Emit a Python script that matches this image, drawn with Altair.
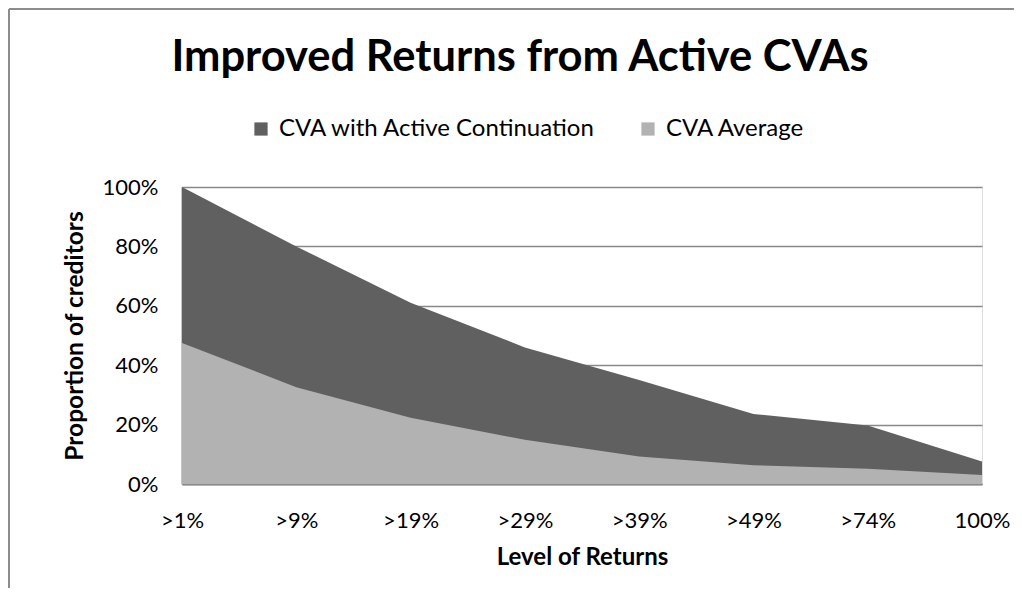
import altair as alt
import pandas as pd

title_text = "Improved Returns from Active CVAs"
categories = [">1%", ">9%", ">19%", ">29%", ">39%", ">49%", ">74%", "100%"]
series_names = ["CVA with Active Continuation", "CVA Average"]
active_values = [1.00, 0.80, 0.61, 0.46, 0.35, 0.236, 0.197, 0.076]
average_values = [0.475, 0.326, 0.223, 0.149, 0.093, 0.063, 0.051, 0.030]
y_ticks = [0, 0.2, 0.4, 0.6, 0.8, 1.0]

rows = []
for c, a, v in zip(categories, active_values, average_values):
    rows.append({"level": c, "series": series_names[0], "value": a})
    rows.append({"level": c, "series": series_names[1], "value": v})
df = pd.DataFrame(rows)

FONT = "Lato"
GRID = "#898989"

color = alt.Color(
    "series:N",
    scale=alt.Scale(domain=series_names, range=["#606060", "#b2b2b2"]),
    legend=alt.Legend(
        title=None,
        orient="none",
        direction="horizontal",
        legendX=67,
        legendY=-70,
        symbolType="square",
        symbolSize=175,
        symbolStrokeWidth=0,
        labelFont=FONT,
        labelFontSize=24,
        labelColor="#000000",
        labelLimit=0,
        columnPadding=40,
        labelOffset=6,
    ),
)

x = alt.X(
    "level:N",
    sort=categories,
    scale=alt.Scale(type="point", padding=0),
    axis=alt.Axis(
        title="Level of Returns",
        labelAngle=0,
        labelFont=FONT,
        labelFontSize=22,
        labelColor="#000000",
        labelPadding=26,
        ticks=False,
        domainColor=GRID,
        domainWidth=2,
        titleFont=FONT,
        titleFontSize=24,
        titleFontWeight="bold",
        titleColor="#000000",
        titlePadding=14,
        grid=False,
    ),
)

y = alt.Y(
    "value:Q",
    stack=None,
    scale=alt.Scale(domain=[0, 1]),
    axis=alt.Axis(
        title="Proportion of creditors",
        values=y_ticks,
        format=".0%",
        labelFont=FONT,
        labelFontSize=22,
        labelColor="#000000",
        labelPadding=24,
        ticks=False,
        domainColor=GRID,
        domainWidth=2,
        gridColor=GRID,
        gridWidth=1.6,
        titleFont=FONT,
        titleFontSize=24.5,
        titleFontWeight="bold",
        titleColor="#000000",
        titlePadding=15,
    ),
)

base = alt.Chart(df)
dark = base.transform_filter(alt.datum.series == series_names[0]).mark_area().encode(
    x=x, y=y, color=color
)
light = base.transform_filter(alt.datum.series == series_names[1]).mark_area().encode(
    x=x, y=y, color=color
)

one = pd.DataFrame({"t": [title_text]})
frame_top = alt.Chart(one).mark_rule(stroke="#8c8c8c", strokeWidth=2).encode(
    x=alt.value(-173), x2=alt.value(900), y=alt.value(-178)
)
frame_left = alt.Chart(one).mark_rule(stroke="#8c8c8c", strokeWidth=2).encode(
    x=alt.value(-173), y=alt.value(-178), y2=alt.value(500)
)
title = alt.Chart(one).mark_text(
    font=FONT, fontSize=43.5, fontWeight="bold", color="#000000",
    align="center", baseline="alphabetic",
).encode(text="t:N", x=alt.value(338), y=alt.value(-116))

chart = alt.layer(frame_top, frame_left, title, dark, light).properties(
    width=800,
    height=297,
    autosize=alt.AutoSizeParams(type="none"),
    padding={"left": 174, "top": 179, "right": 32, "bottom": 104},
).configure_view(stroke=None).configure(background="#ffffff")

chart.save("out.html", embed_options={"renderer": "svg", "actions": False})
